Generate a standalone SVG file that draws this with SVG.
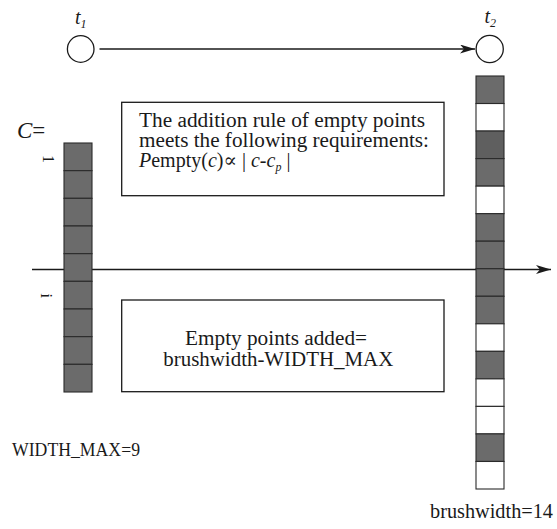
<svg xmlns="http://www.w3.org/2000/svg" width="557" height="529" viewBox="0 0 557 529" font-family="'Liberation Serif', 'DejaVu Serif', serif">
  <style>
    text { font-family: 'Liberation Serif', 'DejaVu Serif', serif; fill: #1a1a1a; }
    .it { font-style: italic; }
    .box { fill: #ffffff; stroke: #1a1a1a; stroke-width: 1.3; }
    .dark { fill: #6b6b6b; stroke: #2a2a2a; stroke-width: 1.1; }
    .light { fill: #ffffff; stroke: #2a2a2a; stroke-width: 1.1; }
    .circle { fill: #ffffff; stroke: #1a1a1a; stroke-width: 1.3; }
    .line { fill: none; stroke: #1a1a1a; stroke-width: 1.4; }
  </style>
  <defs>
    <marker id="arrow" markerUnits="userSpaceOnUse" markerWidth="16" markerHeight="10" refX="15" refY="4.5" orient="auto">
      <path d="M0,0 L15,4.5 L0,9 L4,4.5 Z" fill="#1a1a1a"/>
    </marker>
  </defs>

  <rect width="557" height="529" fill="#ffffff"/>

  <!-- connectors: time arrow between t1 and t2, and the horizontal axis -->
  <g id="connectors">
    <line class="line" x1="99.5" y1="49" x2="475" y2="49" marker-end="url(#arrow)"/>
    <line class="line" x1="32" y1="269.5" x2="551" y2="269.5" marker-end="url(#arrow)"/>
  </g>

  <!-- time points -->
  <g id="node-t1">
    <circle class="circle" cx="80.7" cy="49" r="13.3"/>
    <text class="it" x="75" y="24" font-size="20">t<tspan font-size="12" dy="4">1</tspan></text>
  </g>
  <g id="node-t2">
    <circle class="circle" cx="489.7" cy="49" r="13.6"/>
    <text class="it" x="484.5" y="23" font-size="20">t<tspan font-size="12" dy="4">2</tspan></text>
  </g>

  <!-- brush column C at t1 (WIDTH_MAX = 9 cells) -->
  <g id="node-column-c">
    <text x="17" y="138" font-size="23"><tspan class="it">C</tspan>=</text>
    <rect class="dark" x="64" y="143" width="28" height="27.67"/>
    <rect class="dark" x="64" y="170.67" width="28" height="27.67"/>
    <rect class="dark" x="64" y="198.33" width="28" height="27.67"/>
    <rect class="dark" x="64" y="226" width="28" height="27.67"/>
    <rect class="dark" x="64" y="253.67" width="28" height="27.67"/>
    <rect class="dark" x="64" y="281.33" width="28" height="27.67"/>
    <rect class="dark" x="64" y="309" width="28" height="27.67"/>
    <rect class="dark" x="64" y="336.67" width="28" height="27.67"/>
    <rect class="dark" x="64" y="364.33" width="28" height="27.67"/>
    <text font-size="16" text-anchor="middle" transform="translate(47.5,159) rotate(90)" dy="5">1</text>
    <text font-size="16" text-anchor="middle" transform="translate(45.5,295.7) rotate(90)" dy="5">i</text>
  </g>

  <!-- brush column at t2 with empty points inserted -->
  <g id="node-column-brush">
    <rect class="dark" x="476" y="76" width="28" height="27.53"/>
    <rect class="light" x="476" y="103.53" width="28" height="27.53"/>
    <rect class="dark" x="476" y="131.07" width="28" height="27.53" style="fill:#5f5f5f"/>
    <rect class="dark" x="476" y="158.6" width="28" height="27.53"/>
    <rect class="light" x="476" y="186.13" width="28" height="27.53"/>
    <rect class="dark" x="476" y="213.67" width="28" height="27.53"/>
    <rect class="dark" x="476" y="241.2" width="28" height="27.53"/>
    <rect class="dark" x="476" y="268.73" width="28" height="27.53"/>
    <rect class="dark" x="476" y="296.27" width="28" height="27.53"/>
    <rect class="light" x="476" y="323.8" width="28" height="27.53"/>
    <rect class="dark" x="476" y="351.33" width="28" height="27.53"/>
    <rect class="light" x="476" y="378.87" width="28" height="27.53"/>
    <rect class="light" x="476" y="406.4" width="28" height="27.53"/>
    <rect class="dark" x="476" y="433.93" width="28" height="27.53"/>
    <rect class="light" x="476" y="461.47" width="28" height="27.53"/>
    <text x="430" y="518" font-size="20" textLength="123" lengthAdjust="spacingAndGlyphs">brushwidth=14</text>
  </g>

  <!-- rule for inserting empty points -->
  <g id="node-rule-box">
    <rect class="box" x="121.7" y="102.3" width="322.3" height="93.4"/>
    <text x="139" y="126.5" font-size="20" textLength="286" lengthAdjust="spacingAndGlyphs">The addition rule of empty points</text>
    <text x="139" y="146.5" font-size="20" textLength="290" lengthAdjust="spacingAndGlyphs">meets the following requirements:</text>
    <text x="139" y="166.5" font-size="20"><tspan class="it">P</tspan>empty(<tspan class="it">c</tspan>)∝ | <tspan class="it">c</tspan>-<tspan class="it">c</tspan><tspan class="it" font-size="12" dy="4">p</tspan><tspan dy="-4"> |</tspan></text>
  </g>

  <!-- number of empty points -->
  <g id="node-added-box">
    <rect class="box" x="121.7" y="300" width="322.3" height="91.7"/>
    <text x="185" y="345" font-size="20" textLength="182" lengthAdjust="spacingAndGlyphs">Empty points added=</text>
    <text x="163.3" y="365.5" font-size="20" textLength="230" lengthAdjust="spacingAndGlyphs">brushwidth-WIDTH_MAX</text>
  </g>

  <g id="label-width-max">
    <text x="12" y="456" font-size="19" textLength="128" lengthAdjust="spacingAndGlyphs">WIDTH_MAX=9</text>
  </g>
</svg>
